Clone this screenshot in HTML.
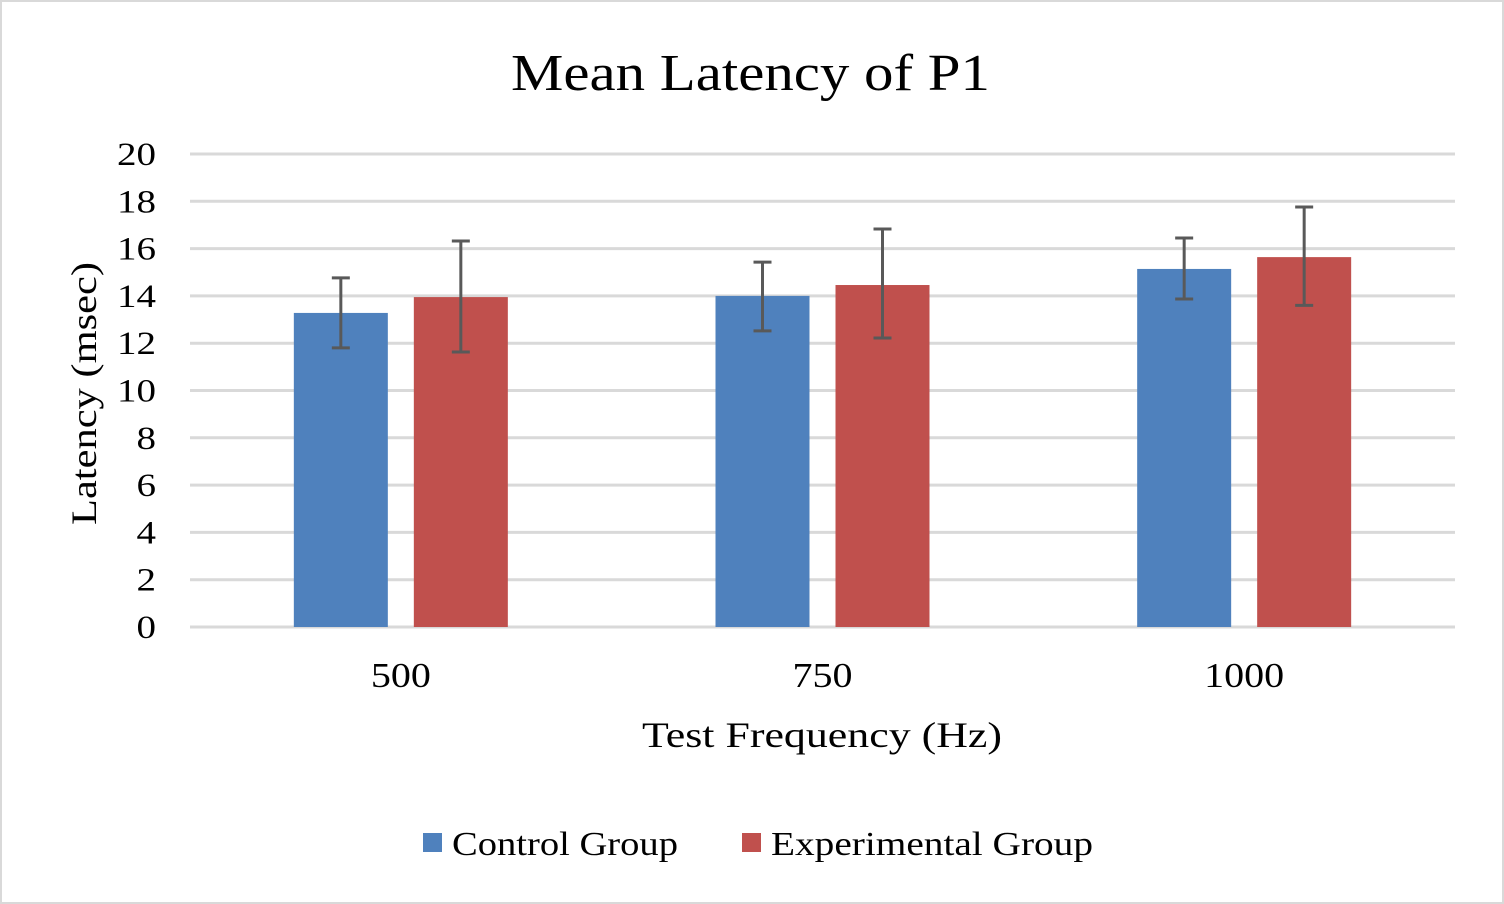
<!DOCTYPE html>
<html><head><meta charset="utf-8"><style>
html,body{margin:0;padding:0;background:#fff;}
svg{display:block;font-family:"Liberation Serif",serif;}
</style></head><body>
<svg id="chart" width="1504" height="904">
<rect x="1" y="1" width="1502" height="902" fill="#fff" stroke="#d9d9d9" stroke-width="2"/>
<text x="511" y="90" font-size="52" textLength="479" lengthAdjust="spacingAndGlyphs" fill="#000">Mean Latency of P1</text>
<g id="grid"></g><g id="bars"></g><g id="errs"></g><g id="labels"></g>
<text transform="translate(96,525) rotate(-90)" font-size="36" textLength="263" lengthAdjust="spacingAndGlyphs" fill="#000">Latency (msec)</text>
<text x="642" y="747" font-size="36" textLength="360" lengthAdjust="spacingAndGlyphs" fill="#000">Test Frequency (Hz)</text>
<g>
<rect x="423" y="833" width="19" height="19" fill="#4f81bd"/>
<text x="452" y="855" font-size="34" textLength="226" lengthAdjust="spacingAndGlyphs" fill="#000">Control Group</text>
<rect x="742" y="833" width="19" height="19" fill="#c0504d"/>
<text x="771" y="855" font-size="34" textLength="322" lengthAdjust="spacingAndGlyphs" fill="#000">Experimental Group</text>
</g>
</svg>
<script>
const categories = ["500","750","1000"];
const controlValues = [13.28, 14.0, 15.14];
const controlErrHigh = [14.76, 15.43, 16.45];
const controlErrLow = [11.8, 12.52, 13.87];
const experimentalValues = [13.95, 14.46, 15.64];
const experimentalErrHigh = [16.32, 16.83, 17.76];
const experimentalErrLow = [11.63, 12.22, 13.6];
const yTicks = [0,2,4,6,8,10,12,14,16,18,20];

const NS="http://www.w3.org/2000/svg";
const x0=190,x1=1455,y0=627,y1=154,yMax=20;
const yS=v=>y0-(v/yMax)*(y0-y1);
const catW=(x1-x0)/categories.length;
const xC=i=>x0+catW*(i+0.5);
function mk(parent,tag,attrs){const e=document.createElementNS(NS,tag);for(const k in attrs)e.setAttribute(k,attrs[k]);document.getElementById(parent).appendChild(e);return e;}
yTicks.forEach(t=>{
  const l=mk('grid','line',{x1:x0,x2:x1,y1:yS(t),y2:yS(t),stroke:'#d9d9d9','stroke-width':3});
  
  
  const s=String(t);
  const tx=mk('labels','text',{x:156,y:yS(t)+11,'font-size':33,'text-anchor':'end',fill:'#000',textLength:s.length*19.5,lengthAdjust:'spacingAndGlyphs'});
  tx.textContent=s;
  
  
});
const bw=94,gap=26;
const series=[
  {name:'control',vals:controlValues,hi:controlErrHigh,lo:controlErrLow,color:'#4f81bd',off:-(gap/2+bw)},
  {name:'experimental',vals:experimentalValues,hi:experimentalErrHigh,lo:experimentalErrLow,color:'#c0504d',off:gap/2}
];
categories.forEach((c,i)=>{
  series.forEach(s=>{
    const bx=xC(i)+s.off;
    const r=mk('bars','rect',{x:bx,y:yS(s.vals[i]),width:bw,height:y0-yS(s.vals[i]),fill:s.color});
    
    
    const cx=bx+bw/2;
    const g=mk('errs','g',{stroke:'#595959','stroke-width':3});
    
    
    [[cx,yS(s.hi[i]),cx,yS(s.lo[i])],[cx-9,yS(s.hi[i]),cx+9,yS(s.hi[i])],[cx-9,yS(s.lo[i]),cx+9,yS(s.lo[i])]].forEach(p=>{
      const l=document.createElementNS(NS,'line');
      l.setAttribute('x1',p[0]);l.setAttribute('y1',p[1]);l.setAttribute('x2',p[2]);l.setAttribute('y2',p[3]);
      g.appendChild(l);
    });
  });
  const t=mk('labels','text',{x:xC(i),y:687,'font-size':35,'text-anchor':'middle',fill:'#000',textLength:c.length*20,lengthAdjust:'spacingAndGlyphs'});
  t.textContent=c;
  
  
});
</script>
</body></html>
